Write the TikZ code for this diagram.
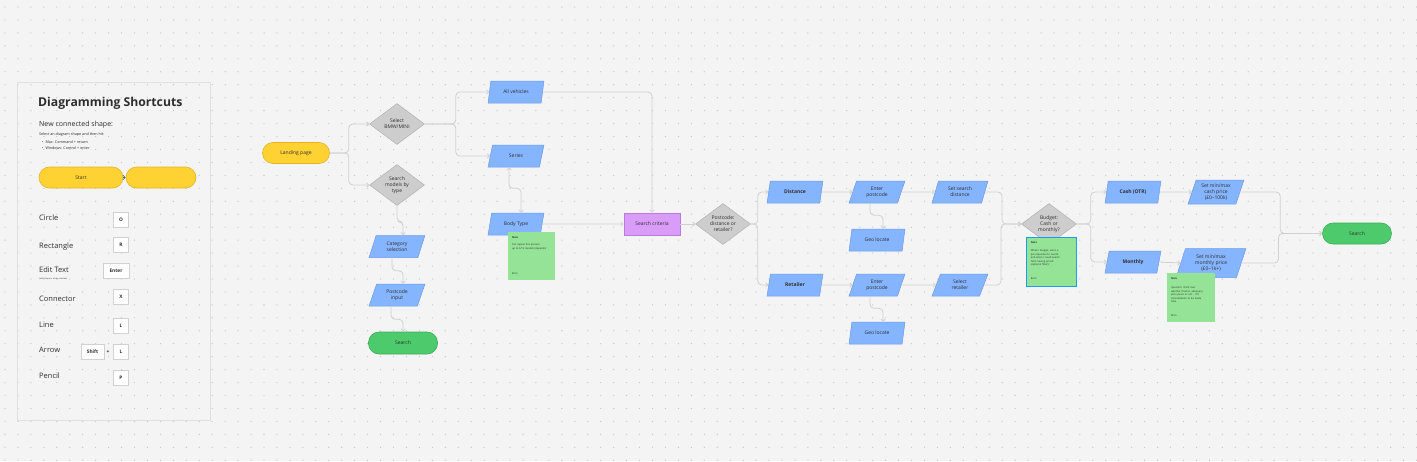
\documentclass[tikz,border=0pt]{standalone}
\usepackage{fontspec}
\setmainfont{Open Sans}
\usetikzlibrary{shapes.geometric, arrows.meta, positioning, calc}

\definecolor{canvas}{HTML}{F4F4F4}
\definecolor{griddot}{HTML}{C6C6C6}
\definecolor{pillyellow}{HTML}{FFD234}
\definecolor{pillyellowline}{HTML}{E2B425}
\definecolor{shapeblue}{HTML}{86B5FF}
\definecolor{shapeblueline}{HTML}{6A9BEE}
\definecolor{decgray}{HTML}{CDCDCD}
\definecolor{decgrayline}{HTML}{B2B2B2}
\definecolor{pillgreen}{HTML}{4DCB6C}
\definecolor{pillgreenline}{HTML}{3BAE57}
\definecolor{critpurple}{HTML}{DA9CF9}
\definecolor{critpurpleline}{HTML}{B87ADB}
\definecolor{notegreen}{HTML}{95E397}
\definecolor{selblue}{HTML}{1B9CF2}
\definecolor{connline}{HTML}{D0D0D0}
\definecolor{inktext}{HTML}{2E2E2E}

\newcommand{\flowfont}{\fontsize{5}{6}\selectfont}
\newcommand{\notefont}{\fontsize{2.5}{3.4}\selectfont}

\begin{document}
\begin{tikzpicture}[x=1pt, y=-1pt,
  pill/.style={rectangle, rounded corners=10.5pt, minimum width=67pt, minimum height=21pt,
    inner sep=0pt, font=\flowfont, text=inktext},
  startpill/.style={pill, fill=pillyellow, draw=pillyellowline, line width=0.6pt},
  endpill/.style={pill, fill=pillgreen, draw=pillgreenline, line width=0.6pt},
  iobox/.style={trapezium, trapezium left angle=70, trapezium right angle=110,
    trapezium stretches=true, minimum width=56pt, minimum height=22pt, inner sep=0pt,
    fill=shapeblue, draw=shapeblueline, line width=0.5pt, font=\flowfont, text=inktext, align=center},
  decision/.style={diamond, minimum width=55pt, minimum height=41pt, inner sep=0pt, aspect=1.35,
    fill=decgray, draw=decgrayline, line width=0.5pt, font=\flowfont, text=inktext, align=center},
  process/.style={rectangle, minimum width=56pt, minimum height=22pt, inner sep=0pt,
    fill=critpurple, draw=critpurpleline, line width=0.6pt, font=\flowfont, text=inktext},
  sticky/.style={rectangle, fill=notegreen, inner sep=0pt},
  notetext/.style={anchor=north west, inner sep=0pt, font=\notefont, text=inktext, align=left},
  keybox/.style={rectangle, fill=white, draw=black!18, line width=0.6pt, minimum width=15pt,
    minimum height=15pt, inner sep=0pt, font=\fontsize{4.8}{5}\selectfont\bfseries, text=inktext},
  keylabel/.style={anchor=west, inner sep=0pt, font=\fontsize{7.5}{8}\selectfont, text=inktext},
  conn/.style={draw=connline, line width=0.8pt, rounded corners=4pt,
    -{Straight Barb[length=2.2pt, width=4.4pt]}},
]
  % canvas with dot grid
  \fill[canvas] (0,0) rectangle (1417,461);
  \useasboundingbox (0,0) rectangle (1417,461);
  \foreach \gx in {0,...,109} {
    \foreach \gy in {0,...,35} {
      \fill[griddot] ({5+12.95*\gx},{7+12.95*\gy}) circle (0.65);
    }
  }

  % shortcuts panel
  \draw[black!12, line width=0.6pt] (17,82) rectangle (210,420);
  \node[anchor=west, inner sep=0pt, font=\fontsize{12.2}{14}\selectfont\bfseries, text=inktext] (title) at (38,103) {Diagramming Shortcuts};
  \node[anchor=west, inner sep=0pt, font=\fontsize{7}{8}\selectfont, text=inktext] (newshape) at (39,125) {New connected shape:};
  \node[anchor=west, inner sep=0pt, font=\fontsize{3.7}{4}\selectfont, text=inktext] (hint) at (39,135) {Select an diagram shape and then hit:};
  \node[anchor=west, inner sep=0pt, font=\fontsize{3.7}{4}\selectfont, text=inktext] (hintmac) at (42,142) {\textbullet\ \ Mac: Command + return};
  \node[anchor=west, inner sep=0pt, font=\fontsize{3.7}{4}\selectfont, text=inktext] (hintwin) at (42,148) {\textbullet\ \ Windows: Control + enter};
  \node[startpill, minimum width=84pt] (start) at (81,177.5) {Start};
  \node[startpill, minimum width=70pt] (blank) at (161,177.5) {};
  \draw[black!65, line width=0.5pt, -{Straight Barb[length=2.4pt, width=4.6pt]}] (start) -- (blank);

  \node[keylabel] (circlelbl) at (39,218) {Circle};
  \node[keybox] (keyo) at (121,219.5) {O};
  \node[keylabel] (rectlbl) at (39,247) {Rectangle};
  \node[keybox] (keyr) at (121,245) {R};
  \node[keylabel] (editlbl) at (39,270) {Edit Text};
  \node[anchor=west, inner sep=0pt, font=\fontsize{2}{2}\selectfont, text=inktext] (editsub) at (39,278.5) {(with shape or sticky selected)};
  \node[keybox, minimum width=26pt] (keyenter) at (116,271) {Enter};
  \node[keylabel] (connlbl) at (39,299) {Connector};
  \node[keybox] (keyx) at (121,297) {X};
  \node[keylabel] (linelbl) at (39,325) {Line};
  \node[keybox] (keyl) at (121,325.5) {L};
  \node[keylabel] (arrowlbl) at (39,350) {Arrow};
  \node[keybox, minimum width=23pt] (keyshift) at (92.5,351.5) {Shift};
  \node[font=\fontsize{5}{6}\selectfont\bfseries, text=inktext, inner sep=0pt] (plus) at (108,352) {+};
  \node[keybox] (keyl2) at (121,351.5) {L};
  \node[keylabel] (pencillbl) at (39,376) {Pencil};
  \node[keybox] (keyp) at (121,377.5) {P};

  % entry and first choices
  \node[startpill] (landing) at (296,153) {Landing page};
  \node[decision] (select) at (397,124) {Select\\BMW/MINI};
  \node[decision] (models) at (397,185) {Search\\models by\\type};
  \node[iobox] (allveh) at (516,92) {All vehicles};
  \node[iobox] (series) at (516,156) {Series};
  \node[iobox] (bodytype) at (516,224) {Body Type};
  \node[process] (criteria) at (652,224) {Search criteria};
  \node[iobox] (category) at (397,246.5) {Category\\selection};
  \node[iobox] (postcode) at (397,295) {Postcode\\input};
  \node[endpill, minimum width=69pt, minimum height=22pt] (searchone) at (403,343) {Search};

  % location branch
  \node[decision] (pcdecision) at (723,224) {Postcode:\\distance or\\retailer?};
  \node[iobox, font=\flowfont\bfseries] (distance) at (795,192) {Distance};
  \node[iobox, font=\flowfont\bfseries] (retailer) at (795,285) {Retailer};
  \node[iobox] (entertop) at (877,192) {Enter\\postcode};
  \node[iobox] (geotop) at (877,240) {Geo locate};
  \node[iobox] (enterbot) at (877,285) {Enter\\postcode};
  \node[iobox] (geobot) at (877,333) {Geo locate};
  \node[iobox] (setdist) at (960,192) {Set search\\distance};
  \node[iobox] (selret) at (960,285) {Select\\retailer};

  % budget branch
  \node[decision] (budget) at (1049,224) {Budget:\\Cash or\\monthly?};
  \node[iobox, font=\flowfont\bfseries] (cash) at (1133,192) {Cash (OTR)};
  \node[iobox, font=\flowfont\bfseries] (monthly) at (1133,262) {Monthly};
  \node[iobox, minimum height=24pt] (setcash) at (1216,192) {Set min/max\\cash price\\(£0--100k)};
  \node[iobox, minimum width=70pt, minimum height=29pt] (setmonth) at (1211,263) {Set min/max\\monthly price\\(£0--1k+)};
  \node[endpill, minimum width=69pt] (searchtwo) at (1357,233.5) {Search};

  % connectors
  \draw[conn] (landing.east) -- ++(19,0) |- (select.west);
  \draw[conn] (landing.east) -- ++(19,0) |- (models.west);
  \draw[conn] (select.east) -- ++(31,0) |- (allveh.west);
  \draw[conn] (select.east) -- ++(31,0) |- (series.west);
  \draw[conn, {Straight Barb[length=2.2pt, width=4.4pt]}-{Straight Barb[length=2.2pt, width=4.4pt]}] ([xshift=-7pt]series.south) -- ++(0,21) -| ([xshift=5pt]bodytype.north);
  \draw[conn] (allveh.east) -| (criteria.north);
  \draw[conn] (bodytype.east) -- (criteria.west);
  \draw[conn] (models.south) -- ++(0,16) -| ([xshift=6pt]category.north);
  \draw[conn] ([xshift=-5pt]category.south) -- ++(0,13) -| ([xshift=6pt]postcode.north);
  \draw[conn] ([xshift=-6pt]postcode.south) -- ++(0,13) -| (searchone.north);
  \draw[conn] (criteria.east) -- (pcdecision.west);
  \draw[conn] (pcdecision.east) -- ++(7,0) |- (distance.west);
  \draw[conn] (pcdecision.east) -- ++(7,0) |- (retailer.west);
  \draw[conn] (distance.east) -- (entertop.west);
  \draw[conn] (retailer.east) -- (enterbot.west);
  \draw[conn] ([xshift=-7pt]entertop.south) -- ++(0,12) -| ([xshift=6pt]geotop.north);
  \draw[conn] ([xshift=-7pt]enterbot.south) -- ++(0,12) -| ([xshift=6pt]geobot.north);
  \draw[conn] (entertop.east) -- (setdist.west);
  \draw[conn] (enterbot.east) -- (selret.west);
  \draw[conn] (setdist.east) -- ++(17,0) |- (budget.west);
  \draw[conn] (selret.east) -- ++(17,0) |- (budget.west);
  \draw[conn] (budget.east) -- ++(14,0) |- (cash.west);
  \draw[conn] (budget.east) -- ++(14,0) |- (monthly.west);
  \draw[conn] (cash.east) -- (setcash.west);
  \draw[conn] (monthly.east) -- (setmonth.west);
  \draw[conn] (setcash.east) -- ++(40,0) |- (searchtwo.west);
  \draw[conn] (setmonth.east) -- ++(37,0) |- (searchtwo.west);

  % sticky notes
  \node[sticky, minimum width=47pt, minimum height=48pt] (noteone) at (531.5,256) {};
  \node[notetext] at ([shift={(4,5)}]noteone.north west) {\bfseries Note};
  \node[notetext, text width=40pt] at ([shift={(4,12)}]noteone.north west) {Can repeat this process\\up to 6/12 models (depends)};
  \node[notetext] at ([shift={(4,41)}]noteone.north west) {Bron};

  \node[sticky, draw=selblue, line width=1.6pt, minimum width=50pt, minimum height=49pt] (notetwo) at (1051.5,262) {};
  \node[notetext] at ([shift={(5,5)}]notetwo.north west) {\bfseries Note};
  \node[notetext, text width=42pt] at ([shift={(5,13)}]notetwo.north west) {When I budget, use it a\\pre-requisite for search\\and when I could search\\from ‘seeing priced’\\(optional filter)?};
  \node[notetext] at ([shift={(5,41)}]notetwo.north west) {Bron};

  \node[sticky, minimum width=48pt, minimum height=49pt] (notethree) at (1191,297.5) {};
  \node[notetext] at ([shift={(4,5)}]notethree.north west) {\bfseries Note};
  \node[notetext, text width=42pt] at ([shift={(4,14)}]notethree.north west) {Question: think over\\whether finance, adequacy\\price pears or not - I f/t\\consideration to be made\\here.};
  \node[notetext] at ([shift={(4,42)}]notethree.north west) {Bron};
\end{tikzpicture}
\end{document}
